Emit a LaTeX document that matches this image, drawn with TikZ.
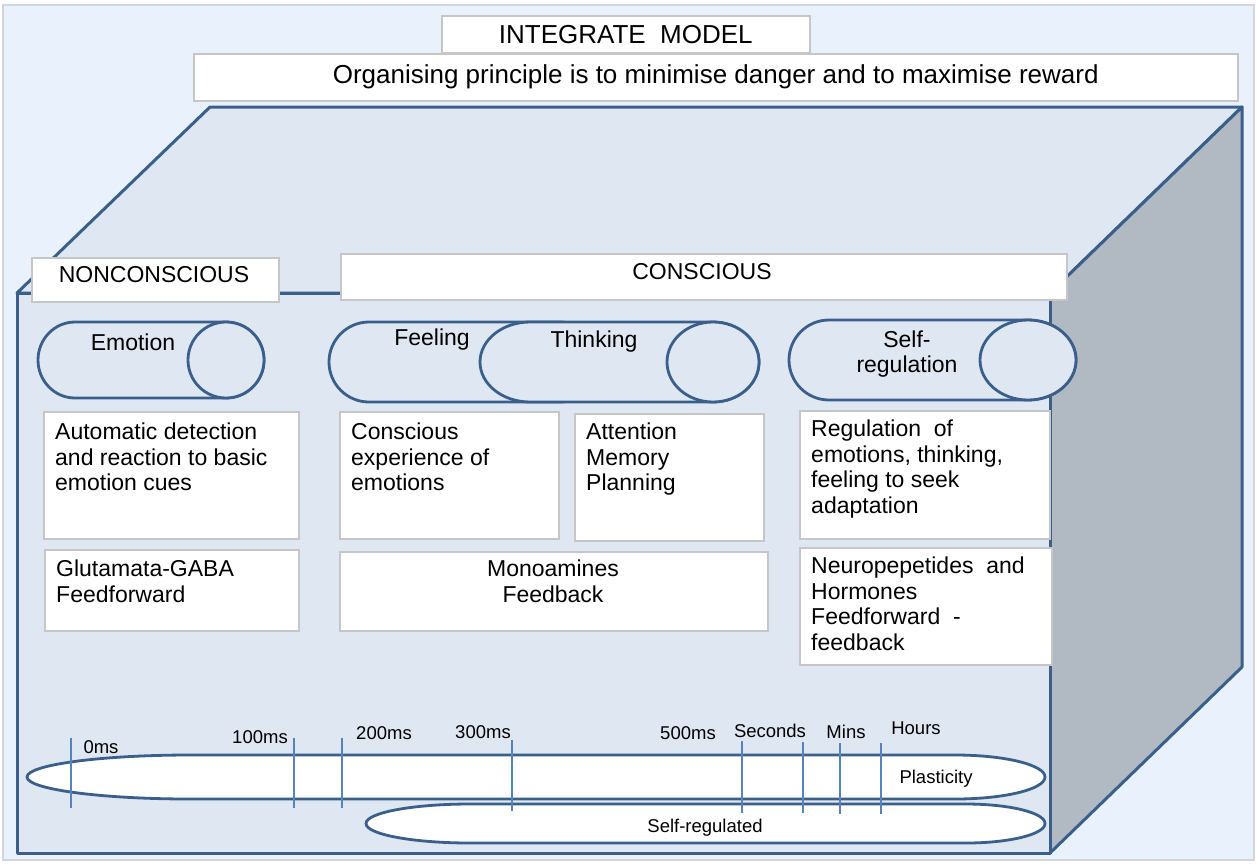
\documentclass[tikz,border=0pt]{standalone}
\usepackage{fontspec}
\setmainfont{Liberation Sans}
\definecolor{bgblue}{HTML}{E9F2FC}
\definecolor{facefill}{HTML}{DEE7F2}
\definecolor{sidefill}{HTML}{B1B9C3}
\definecolor{edgeblue}{HTML}{3A5F8B}
\definecolor{tickblue}{HTML}{5583BE}
\definecolor{boxgray}{HTML}{C6C6C6}
\definecolor{framegray}{HTML}{D2D6DB}
\begin{document}
\begin{tikzpicture}[x=1pt,y=-1pt,
  face/.style={fill=facefill, draw=edgeblue, line width=3pt, line join=round},
  sideface/.style={fill=sidefill, draw=edgeblue, line width=3pt, line join=round},
  lbl/.style={draw=boxgray, fill=white, line width=1.5pt, inner sep=0pt, anchor=north west},
  cyl/.style={fill=facefill, draw=edgeblue, line width=2.8pt},
  tl/.style={fill=white, draw=edgeblue, line width=2.8pt},
  tick/.style={draw=tickblue, line width=1.6pt},
  big/.style={font=\fontsize{23}{25.5}\selectfont, inner sep=0pt, align=left},
  small/.style={font=\fontsize{18.5}{20}\selectfont, inner sep=0pt}]
\useasboundingbox (0,0) rectangle (1257,863);
\fill[white] (0,0) rectangle (1257,863);
\filldraw[fill=bgblue, draw=framegray, line width=1.5pt] (3,5) rectangle (1254,860);

% cuboid
\filldraw[face] (17,293) -- (210,107) -- (1242,107) -- (1050,293) -- cycle;
\filldraw[sideface] (1050,293) -- (1242,107) -- (1242,667) -- (1050,853) -- cycle;
\filldraw[face] (17,293) rectangle (1050,853);

% header boxes
\node[lbl, minimum width=368pt, minimum height=37pt, font=\fontsize{26}{28}\selectfont] (title) at (441,15) {INTEGRATE~ MODEL};
\node[lbl, minimum width=1044pt, minimum height=47pt, font=\fontsize{26}{28}\selectfont] (principle) at (193,53) {Organising principle is to minimise danger and to maximise reward};
\node[lbl, minimum width=247pt, minimum height=44pt] (noncbox) at (31,257) {};
\node[big] (nonc) at (154,275) {NONCONSCIOUS};
\node[lbl, minimum width=726pt, minimum height=46pt] (consbox) at (340,253) {};
\node[big] (cons) at (702,272) {CONSCIOUS};

% cylinders
\filldraw[cyl] (75,322) -- (226,322) arc[start angle=90, end angle=-90, x radius=38pt, y radius=38pt]
  -- (75,398) arc[start angle=270, end angle=90, x radius=37pt, y radius=38pt] -- cycle;
\draw[cyl] (226,360) ellipse[x radius=38pt, y radius=38pt];
\node[big] (emotion) at (133,342) {Emotion};

\filldraw[cyl] (369,322) -- (560,322) arc[start angle=90, end angle=-90, x radius=40pt, y radius=40pt]
  -- (369,402) arc[start angle=270, end angle=90, x radius=40pt, y radius=40pt] -- cycle;
\filldraw[cyl] (530,322) -- (713,322) arc[start angle=90, end angle=-90, x radius=46pt, y radius=40pt]
  -- (530,402) arc[start angle=270, end angle=90, x radius=50pt, y radius=40pt] -- cycle;
\draw[cyl] (713,362) ellipse[x radius=46pt, y radius=40pt];
\node[big] (feeling) at (432,340) {Feeling};
\node[big] (thinking) at (594,342) {Thinking};

\filldraw[cyl] (829,320) -- (1028,320) arc[start angle=90, end angle=-90, x radius=48pt, y radius=40pt]
  -- (829,400) arc[start angle=270, end angle=90, x radius=40pt, y radius=40pt] -- cycle;
\draw[cyl] (1028,360) ellipse[x radius=48pt, y radius=40pt];
\node[big, align=center] (selfreg) at (907,354) {Self-\\regulation};

% text boxes
\node[lbl, minimum width=255pt, minimum height=127pt] (autobox) at (43,411) {};
\node[big, anchor=north west] (auto) at (55,423) {Automatic detection\\and reaction to basic\\emotion cues};
\node[lbl, minimum width=219pt, minimum height=127pt] (consexpbox) at (339,411) {};
\node[big, anchor=north west] (consexp) at (351,423) {Conscious\\experience of\\emotions};
\node[lbl, minimum width=189pt, minimum height=127pt] (attbox) at (574,413) {};
\node[big, anchor=north west] (att) at (586,423) {Attention\\Memory\\Planning};
\node[lbl, minimum width=250pt, minimum height=128pt] (regbox) at (799,410) {};
\node[big, anchor=north west] (reg) at (811,420) {Regulation~ of\\emotions, thinking,\\feeling to seek\\adaptation};
\node[lbl, minimum width=254pt, minimum height=81pt] (glubox) at (44,549) {};
\node[big, anchor=north west] (glu) at (56,560) {Glutamata-GABA\\Feedforward};
\node[lbl, minimum width=428pt, minimum height=79pt] (monobox) at (339,551) {};
\node[big, align=center, anchor=north] (mono) at (553,560) {Monoamines\\Feedback};
\node[lbl, minimum width=252pt, minimum height=117pt] (neurobox) at (799,547) {};
\node[big, anchor=north west] (neuro) at (811,557) {Neuropepetides~ and\\Hormones\\Feedforward~ -\\feedback};

% timeline
\filldraw[tl] (190,755) -- (955,755) arc[start angle=90, end angle=-90, x radius=90pt, y radius=22pt]
  -- (190,799) arc[start angle=270, end angle=90, x radius=163pt, y radius=22pt] -- cycle;
\filldraw[tl] (470,804) -- (966,804) arc[start angle=90, end angle=-90, x radius=79pt, y radius=19.5pt]
  -- (470,843) arc[start angle=270, end angle=90, x radius=104pt, y radius=19.5pt] -- cycle;
\node[small] (plast) at (936,779) {Plasticity};
\node[small] (selfregd) at (705,828) {Self-regulated};

\foreach \x/\a/\b in {71/738/808, 294/738/808, 342/738/808, 512/740/811, 742/741/813, 803/742/813, 840/743/814, 881/743/814}
  \draw[tick] (\x,\a) -- (\x,\b);

\node[small] (t0) at (101,747) {0ms};
\node[small] (t100) at (260,737) {100ms};
\node[small] (t200) at (384,733) {200ms};
\node[small] (t300) at (483,732) {300ms};
\node[small] (t500) at (688,733) {500ms};
\node[small] (tsec) at (770,731) {Seconds};
\node[small] (tmin) at (846,732) {Mins};
\node[small] (thour) at (916,728) {Hours};
\end{tikzpicture}
\end{document}
